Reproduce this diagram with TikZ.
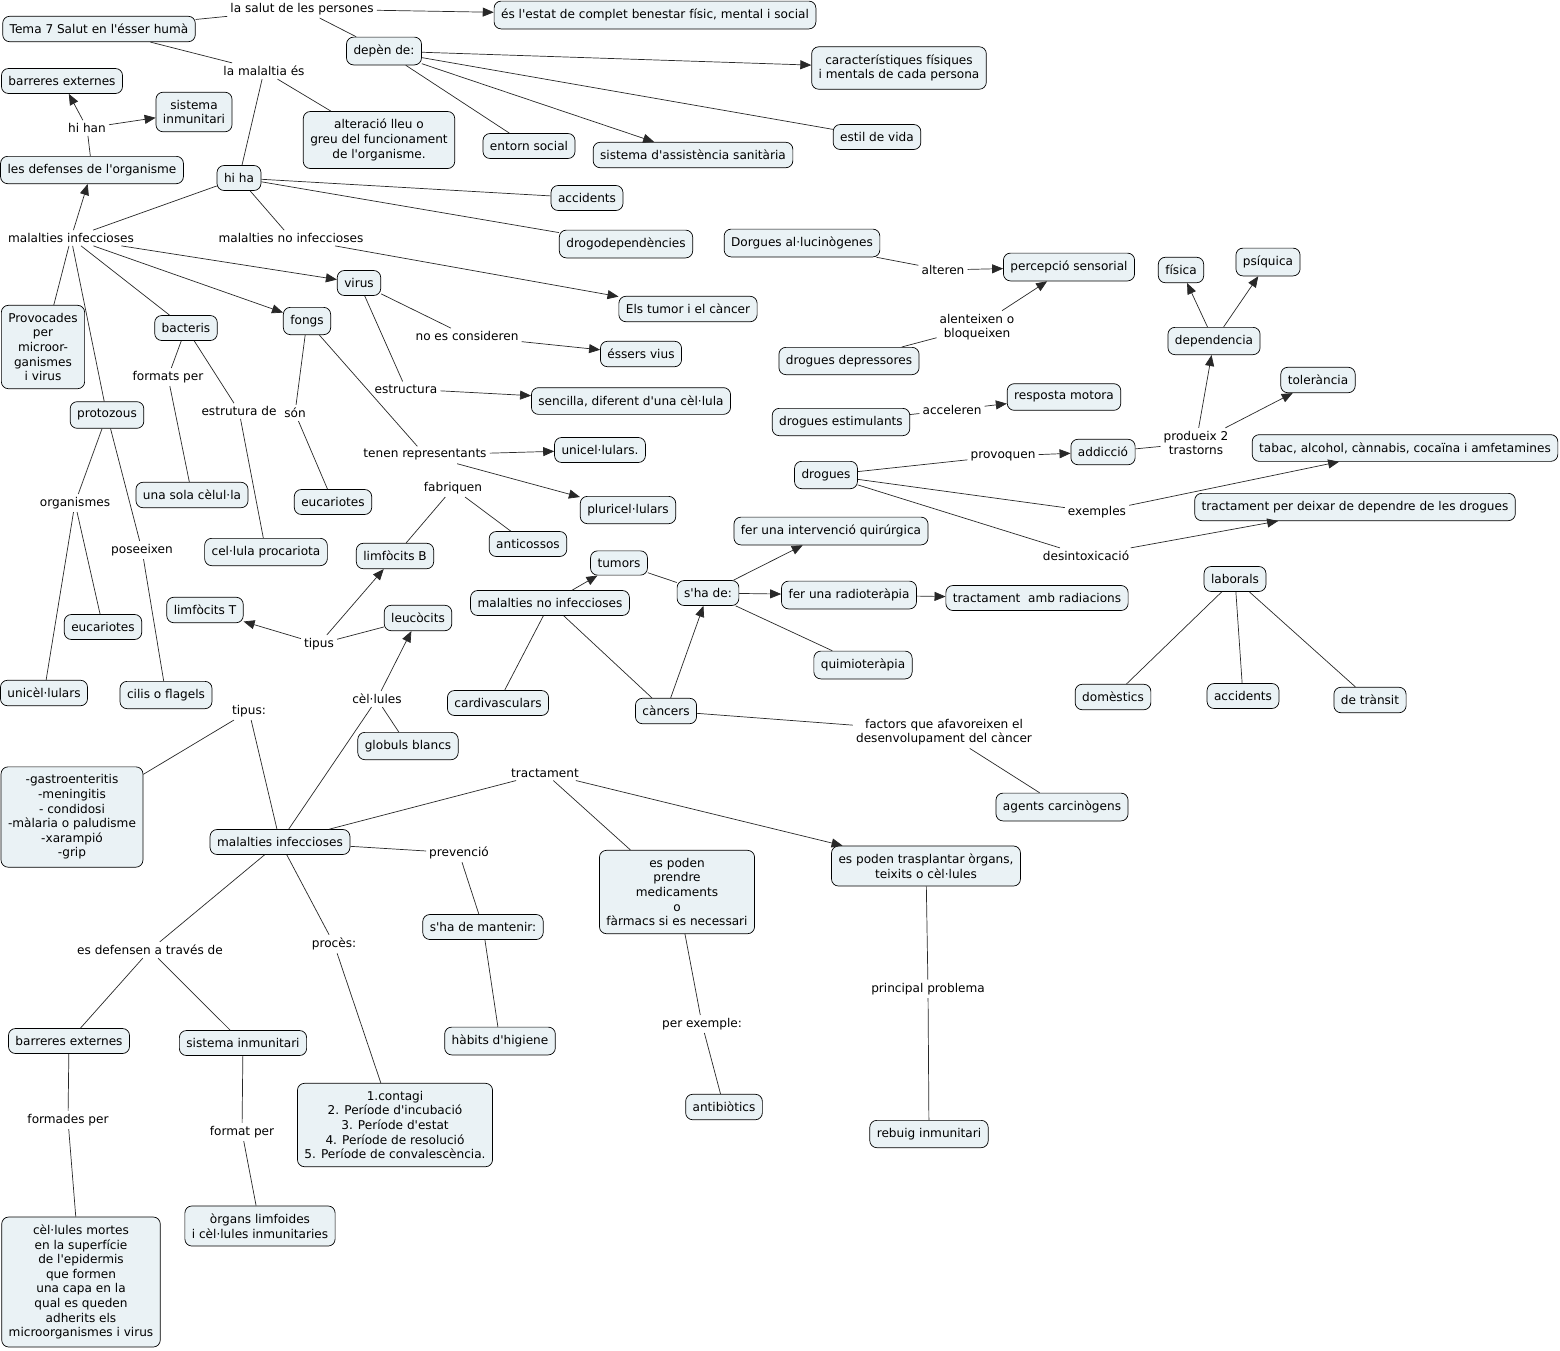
\documentclass[tikz,border=0pt]{standalone}
\usepackage{fontspec}
\setmainfont{DejaVu Sans}[Ligatures=TeXOff]
\usetikzlibrary{arrows.meta}
\definecolor{cfill}{RGB}{234,242,245}
\definecolor{lcol}{RGB}{40,40,40}
\begin{document}
\begin{tikzpicture}[x=1pt,y=-1pt,
  every node/.style={font=\fontsize{12.1}{14.6}\selectfont},
  concept/.style={draw=black, fill=cfill, rounded corners=7pt, align=center, inner xsep=7pt, inner ysep=7.8pt, line width=0.7pt},
  lp/.style={align=center, inner sep=3pt},
  con/.style={draw=lcol, line width=0.7pt},
  arr/.style={con, -{Triangle[length=11pt,width=9pt]}}]
\useasboundingbox[fill=white] (0,0) rectangle (1560,1350);

% ---------- concepts ----------
\node[concept] (tema) at (99,29) {Tema 7 Salut en l'ésser humà};
\node[concept] (estat) at (655,15) {és l'estat de complet benestar físic, mental i social};
\node[concept] (depen) at (384,51) {depèn de:};
\node[concept] (caract) at (899,68) {característiques físiques\\i mentals de cada persona};
\node[concept] (entorn) at (529,146) {entorn social};
\node[concept] (sistsan) at (693,155) {sistema d'assistència sanitària};
\node[concept] (estil) at (877,137) {estil de vida};
\node[concept] (barr1) at (62,81) {barreres externes};
\node[concept] (sistinm1) at (194,112) {sistema\\inmunitari};
\node[concept] (alter) at (379,140) {alteració lleu o\\greu del funcionament\\de l'organisme.};
\node[concept] (defenses) at (92,170) {les defenses de l'organisme};
\node[concept] (hiha) at (239,178) {hi ha};
\node[concept] (accid1) at (587,198) {accidents};
\node[concept] (drogodep) at (626,244) {drogodependències};
\node[concept] (provoc) at (43,347) {Provocades\\per\\microor-\\ganismes\\i virus};
\node[concept] (virus) at (359,283) {virus};
\node[concept] (bacteris) at (186,328) {bacteris};
\node[concept] (fongs) at (307,321) {fongs};
\node[concept] (tumorcancer) at (688,309) {Els tumor i el càncer};
\node[concept] (essers) at (641,354) {éssers vius};
\node[concept] (sencilla) at (631,401) {sencilla, diferent d'una cèl·lula};
\node[concept] (protozous) at (107,415) {protozous};
\node[concept] (unasola) at (192,495) {una sola cèlul·la};
\node[concept] (eucar1) at (333,502) {eucariotes};
\node[concept] (celpro) at (266,552) {cel·lula procariota};
\node[concept] (limfB) at (395,556) {limfòcits B};
\node[concept] (anticossos) at (528,544) {anticossos};
\node[concept] (unicel) at (600,450) {unicel·lulars.};
\node[concept] (pluricel) at (628,510) {pluricel·lulars};
\node[concept] (limfT) at (205,610) {limfòcits T};
\node[concept] (leucocits) at (418,618) {leucòcits};
\node[concept] (eucar2) at (103,627) {eucariotes};
\node[concept] (unicelul) at (44,693) {unicèl·lulars};
\node[concept] (cilis) at (166,695) {cilis o flagels};
\node[concept] (globuls) at (408,746) {globuls blancs};
\node[concept] (tumors) at (619,563) {tumors};
\node[concept] (mnoinf2) at (550,603) {malalties no infeccioses};
\node[concept] (shade) at (708,593) {s'ha de:};
\node[concept] (fercir) at (831,531) {fer una intervenció quirúrgica};
\node[concept] (ferrad) at (849,595) {fer una radioteràpia};
\node[concept] (tractrad) at (1037,598) {tractament\ \ amb radiacions};
\node[concept] (quimio) at (863,665) {quimioteràpia};
\node[concept] (cardiv) at (498,703) {cardivasculars};
\node[concept] (cancers) at (666,711) {càncers};
\node[concept] (agents) at (1062,807) {agents carcinògens};
\node[concept] (gastro) at (72,817) {-gastroenteritis\\-meningitis\\- condidosi\\-màlaria o paludisme\\-xarampió\\-grip};
\node[concept] (malinf2) at (280,842) {malalties infeccioses};
\node[concept] (espoden) at (677,892) {es poden\\prendre\\medicaments\\o\\fàrmacs si es necessari};
\node[concept] (trasplant) at (926,866) {es poden trasplantar òrgans,\\teixits o cèl·lules};
\node[concept] (shamant) at (483,927) {s'ha de mantenir:};
\node[concept] (habits) at (500,1041) {hàbits d'higiene};
\node[concept] (barr2) at (69,1041) {barreres externes};
\node[concept] (sistinm2) at (243,1043) {sistema inmunitari};
\node[concept] (proces) at (395,1125) {1.contagi\\2. Període d'incubació\\3. Període d'estat\\4. Període de resolució\\5. Període de convalescència.};
\node[concept] (antib) at (724,1107) {antibiòtics};
\node[concept] (rebuig) at (929,1134) {rebuig inmunitari};
\node[concept] (cellmortes) at (81,1282) {cèl·lules mortes\\en la superfície\\de l'epidermis\\que formen\\una capa en la\\qual es queden\\adherits els\\microorganismes i virus};
\node[concept] (organs) at (260,1226) {òrgans limfoides\\i cèl·lules inmunitaries};
\node[concept] (dorgues) at (802,243) {Dorgues al·lucinògenes};
\node[concept] (percepcio) at (1069,267) {percepció sensorial};
\node[concept] (depress) at (849,361) {drogues depressores};
\node[concept] (estimul) at (841,422) {drogues estimulants};
\node[concept] (resposta) at (1064,397) {resposta motora};
\node[concept] (fisica) at (1181,270) {física};
\node[concept] (psiquica) at (1268,262) {psíquica};
\node[concept] (dependencia) at (1214,341) {dependencia};
\node[concept] (tolerancia) at (1318,380) {tolerància};
\node[concept] (addiccio) at (1103,452) {addicció};
\node[concept] (drogues) at (826,475) {drogues};
\node[concept] (tabac) at (1405,448) {tabac, alcohol, cànnabis, cocaïna i amfetamines};
\node[concept] (tractdeix) at (1355,507) {tractament per deixar de dependre de les drogues};
\node[concept] (laborals) at (1235,579) {laborals};
\node[concept] (domestics) at (1113,697) {domèstics};
\node[concept] (accid2) at (1243,696) {accidents};
\node[concept] (transit) at (1370,700) {de trànsit};

% ---------- linking phrases ----------
\node[lp] (L1) at (302,9) {la salut de les persones};
\node[lp] (L2) at (264,71) {la malaltia és};
\node[lp] (L3) at (87,128) {hi han};
\node[lp] (L4) at (71,238) {malalties infeccioses};
\node[lp] (L5) at (291,238) {malalties no infeccioses};
\node[lp] (L6) at (467,336) {no es consideren};
\node[lp] (L7) at (406,389) {estructura};
\node[lp] (L8) at (168,377) {formats per};
\node[lp] (L9) at (239,411) {estrutura de};
\node[lp] (L10) at (295,413) {són};
\node[lp] (L11) at (425,455) {tenen representants};
\node[lp] (L12) at (453,488) {fabriquen};
\node[lp] (L13) at (75,503) {organismes};
\node[lp] (L14) at (142,550) {poseeixen};
\node[lp] (L15) at (319,644) {tipus};
\node[lp] (L16) at (377,699) {cèl·lules};
\node[lp] (L17) at (249,711) {tipus:};
\node[lp] (L18) at (545,773) {tractament};
\node[lp] (L19) at (459,853) {prevenció};
\node[lp] (L20) at (334,944) {procès:};
\node[lp] (L21) at (150,950) {es defensen a través de};
\node[lp] (L22) at (68,1120) {formades per};
\node[lp] (L23) at (242,1132) {format per};
\node[lp] (L24) at (702,1024) {per exemple:};
\node[lp] (L25) at (928,989) {principal problema};
\node[lp] (L26) at (944,732) {factors que afavoreixen el\\desenvolupament del càncer};
\node[lp] (L27) at (943,270) {alteren};
\node[lp] (L28) at (977,327) {alenteixen o\\bloqueixen};
\node[lp] (L29) at (952,410) {acceleren};
\node[lp] (L30) at (1003,456) {provoquen};
\node[lp] (L31) at (1196,443) {produeix 2\\trastorns};
\node[lp] (L32) at (1097,512) {exemples};
\node[lp] (L33) at (1086,556) {desintoxicació};

% ---------- connectors ----------
\draw[con] (tema) -- (L1);
\draw[arr] (L1) -- (estat);
\draw[con] (L1) -- (depen);
\draw[con] (tema) -- (L2);
\draw[con] (L2) -- (alter);
\draw[con] (L2) -- (hiha);
\draw[arr] (depen) -- (caract);
\draw[con] (depen) -- (entorn);
\draw[arr] (depen) -- (sistsan);
\draw[con] (depen) -- (estil);
\draw[con] (defenses) -- (L3);
\draw[arr] (L3) -- (barr1);
\draw[arr] (L3) -- (sistinm1);
\draw[con] (hiha) -- (accid1);
\draw[con] (hiha) -- (drogodep);
\draw[con] (hiha) -- (L4);
\draw[con] (hiha) -- (L5);
\draw[arr] (L5) -- (tumorcancer);
\draw[arr] (L4) -- (defenses);
\draw[con] (provoc) -- (L4);
\draw[con] (L4) -- (protozous);
\draw[con] (L4) -- (bacteris);
\draw[arr] (L4) -- (fongs);
\draw[arr] (L4) -- (virus);
\draw[con] (virus) -- (L6);
\draw[arr] (L6) -- (essers);
\draw[con] (virus) -- (L7);
\draw[arr] (L7) -- (sencilla);
\draw[con] (bacteris) -- (L8);
\draw[con] (L8) -- (unasola);
\draw[con] (bacteris) -- (L9);
\draw[con] (L9) -- (celpro);
\draw[con] (fongs) -- (L10);
\draw[con] (L10) -- (eucar1);
\draw[con] (fongs) -- (L11);
\draw[arr] (L11) -- (unicel);
\draw[arr] (L11) -- (pluricel);
\draw[con] (protozous) -- (L13);
\draw[con] (L13) -- (eucar2);
\draw[con] (L13) -- (unicelul);
\draw[con] (protozous) -- (L14);
\draw[con] (L14) -- (cilis);
\draw[con] (limfB) -- (L12);
\draw[con] (L12) -- (anticossos);
\draw[con] (leucocits) -- (L15);
\draw[arr] (L15) -- (limfT);
\draw[arr] (L15) -- (limfB);
\draw[con] (malinf2) -- (L16);
\draw[arr] (L16) -- (leucocits);
\draw[con] (L16) -- (globuls);
\draw[con] (malinf2) -- (L17);
\draw[con] (L17) -- (gastro);
\draw[con] (malinf2) -- (L18);
\draw[con] (L18) -- (espoden);
\draw[arr] (L18) -- (trasplant);
\draw[con] (malinf2) -- (L19);
\draw[con] (L19) -- (shamant);
\draw[con] (shamant) -- (habits);
\draw[con] (malinf2) -- (L20);
\draw[con] (L20) -- (proces);
\draw[con] (malinf2) -- (L21);
\draw[con] (L21) -- (barr2);
\draw[con] (L21) -- (sistinm2);
\draw[con] (barr2) -- (L22);
\draw[con] (L22) -- (cellmortes);
\draw[con] (sistinm2) -- (L23);
\draw[con] (L23) -- (organs);
\draw[con] (espoden) -- (L24);
\draw[con] (L24) -- (antib);
\draw[con] (trasplant) -- (L25);
\draw[con] (L25) -- (rebuig);
\draw[arr] (mnoinf2) -- (tumors);
\draw[con] (mnoinf2) -- (cardiv);
\draw[con] (mnoinf2) -- (cancers);
\draw[arr] (cancers) -- (shade);
\draw[con] (tumors) -- (shade);
\draw[arr] (shade) -- (fercir);
\draw[arr] (shade) -- (ferrad);
\draw[con] (shade) -- (quimio);
\draw[arr] (ferrad) -- (tractrad);
\draw[con] (cancers) -- (L26);
\draw[con] (L26) -- (agents);
\draw[con] (dorgues) -- (L27);
\draw[arr] (L27) -- (percepcio);
\draw[con] (depress) -- (L28);
\draw[arr] (L28) -- (percepcio);
\draw[con] (estimul) -- (L29);
\draw[arr] (L29) -- (resposta);
\draw[con] (drogues) -- (L30);
\draw[arr] (L30) -- (addiccio);
\draw[con] (addiccio) -- (L31);
\draw[arr] (L31) -- (dependencia);
\draw[arr] (L31) -- (tolerancia);
\draw[arr] (dependencia) -- (fisica);
\draw[arr] (dependencia) -- (psiquica);
\draw[con] (drogues) -- (L32);
\draw[arr] (L32) -- (tabac);
\draw[con] (drogues) -- (L33);
\draw[arr] (L33) -- (tractdeix);
\draw[con] (laborals) -- (domestics);
\draw[con] (laborals) -- (accid2);
\draw[con] (laborals) -- (transit);
\end{tikzpicture}
\end{document}
